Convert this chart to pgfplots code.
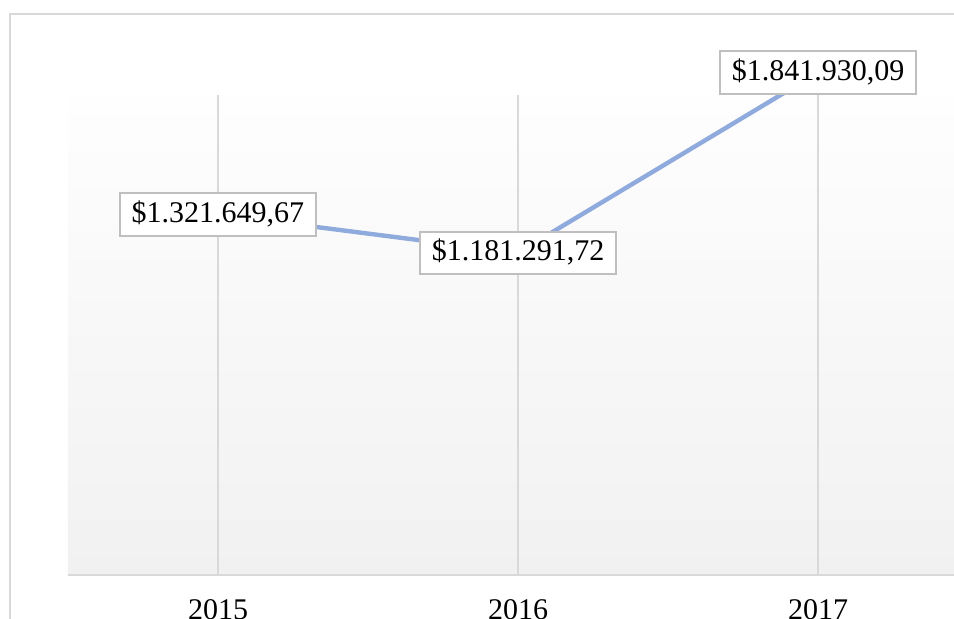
\documentclass[border=0pt]{standalone}
\usepackage{fontspec}
\setmainfont{Liberation Serif}
\usepackage{pgfplots}
\pgfplotsset{compat=1.18}
\definecolor{cline}{HTML}{8FAADC}
\definecolor{cgrid}{HTML}{D9D9D9}
\definecolor{cbox}{HTML}{BFBFBF}
\definecolor{ctop}{HTML}{FEFEFE}
\definecolor{cbot}{HTML}{F1F1F1}

\begin{document}
\begin{tikzpicture}[x=0.5pt,y=0.5pt]
\begin{scope}
\clip (0,0) rectangle (954,618);
% outer chart frame, cut on the right and at the bottom
\draw[cgrid, line width=1pt] (10,-10) -- (10,604) -- (970,604);
\begin{axis}[
  at={(34pt,21.5pt)}, anchor=south west,
  scale only axis, width=450pt, height=240pt,
  xmin=-0.5, xmax=2.5, ymin=0, ymax=1759500,
  clip=false,
  axis background/.style={top color=ctop, bottom color=cbot},
  axis line style={draw=none},
  tick style={draw=none},
  xtick={0,1,2}, xticklabels={2015,2016,2017},
  ytick=\empty,
  xmajorgrids, grid style={cgrid, line width=0.75pt},
  xticklabel style={font=\fontsize{15}{18}\selectfont, anchor=base, yshift=-22pt},
]
\draw[cgrid, line width=1pt] (rel axis cs:0,0) -- (rel axis cs:1,0);
\addplot[cline, line width=2.2pt, mark=none,
  point meta=explicit symbolic,
  nodes near coords,
  every node near coord/.append style={
    anchor=center, font=\fontsize{15}{18}\selectfont, text=black,
    fill=white, draw=cbox, line width=1pt,
    inner xsep=6pt, inner ysep=4pt, text height=10.4pt, text depth=2.8pt},
] coordinates {
  (0,1321649.67) [\$1.321.649,67]
  (1,1181291.72) [\$1.181.291,72]
  (2,1841930.09) [\$1.841.930,09]
};
\end{axis}
\end{scope}
\pgfresetboundingbox
\useasboundingbox (0,0) rectangle (954,618);
\end{tikzpicture}
\end{document}
